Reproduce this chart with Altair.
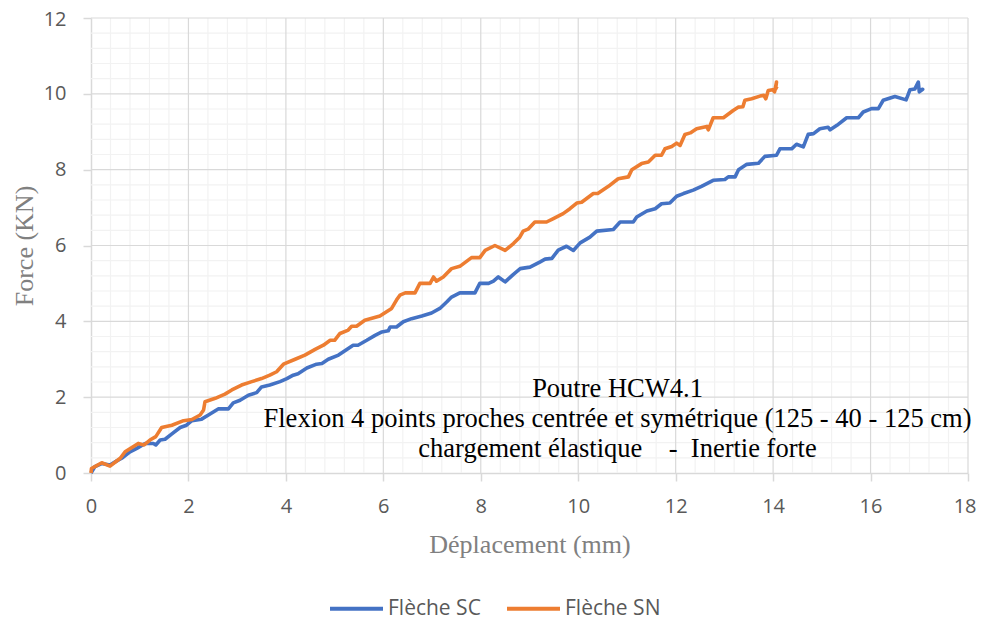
import altair as alt
import pandas as pd

# ---- data ----
sc_x = [0, 0.08, 0.22, 0.39, 0.53, 0.63, 0.80, 0.94, 1.11, 1.28, 1.33, 1.42, 1.52, 1.66, 1.83, 1.96,
        2.07, 2.27, 2.41, 2.61, 2.82, 2.92, 3.06, 3.23, 3.40, 3.50, 3.67, 3.88, 4.02, 4.15, 4.25, 4.43,
        4.63, 4.74, 4.87, 5.08, 5.25, 5.38, 5.48, 5.66, 5.83, 5.97, 6.10, 6.14, 6.27, 6.41, 6.58, 6.79,
        6.99, 7.16, 7.30, 7.40, 7.57, 7.88, 7.98, 8.16, 8.26, 8.36, 8.50, 8.67, 8.81, 9.01, 9.22, 9.32,
        9.46, 9.59, 9.76, 9.90, 10.04, 10.24, 10.38, 10.72, 10.86, 11.13, 11.20, 11.41, 11.58, 11.71,
        11.88, 12.02, 12.16, 12.36, 12.53, 12.77, 13.01, 13.08, 13.22, 13.29, 13.46, 13.70, 13.83,
        14.07, 14.14, 14.38, 14.48, 14.62, 14.72, 14.83, 14.96, 15.13, 15.17, 15.31, 15.51, 15.75,
        15.85, 16.02, 16.16, 16.26, 16.50, 16.73, 16.81, 16.91, 16.98, 17.00, 17.07, 17.03]
sc_y = [0, 0.17, 0.25, 0.21, 0.32, 0.39, 0.56, 0.65, 0.78, 0.78, 0.74, 0.87, 0.89, 1.03, 1.20, 1.26,
        1.38, 1.42, 1.53, 1.69, 1.69, 1.85, 1.92, 2.05, 2.12, 2.27, 2.32, 2.41, 2.49, 2.58, 2.62, 2.77,
        2.87, 2.89, 3.00, 3.11, 3.26, 3.37, 3.37, 3.50, 3.63, 3.72, 3.75, 3.85, 3.85, 3.99, 4.07, 4.14,
        4.22, 4.34, 4.51, 4.64, 4.75, 4.75, 5.00, 5.00, 5.06, 5.17, 5.04, 5.24, 5.39, 5.43, 5.57, 5.64,
        5.66, 5.88, 5.98, 5.87, 6.07, 6.22, 6.38, 6.42, 6.62, 6.62, 6.75, 6.91, 6.97, 7.10,
        7.12, 7.30, 7.37, 7.46, 7.56, 7.72, 7.74, 7.81, 7.81, 8.00, 8.14, 8.17, 8.35,
        8.38, 8.55, 8.55, 8.67, 8.60, 8.93, 8.95, 9.08, 9.12, 9.05, 9.17, 9.37, 9.37,
        9.52, 9.61, 9.61, 9.83, 9.93, 9.84, 10.11, 10.13, 10.31, 10.05, 10.12, 10.10]

sn_x = [0, 0.01, 0.08, 0.22, 0.39, 0.60, 0.70, 0.97, 1.09, 1.21, 1.33, 1.45, 1.66, 1.90, 2.07, 2.24,
        2.31, 2.34, 2.55, 2.75, 2.89, 3.09, 3.30, 3.50, 3.67, 3.81, 3.95, 4.19, 4.39, 4.60, 4.77, 4.91,
        5.00, 5.11, 5.28, 5.35, 5.45, 5.62, 5.93, 6.17, 6.27, 6.34, 6.45, 6.65, 6.75, 6.96, 7.03, 7.09,
        7.23, 7.40, 7.57, 7.81, 7.98, 8.09, 8.29, 8.50, 8.67, 8.80, 8.87, 8.97, 9.11, 9.35, 9.49, 9.69,
        9.83, 9.97, 10.07, 10.31, 10.40, 10.62, 10.82, 11.03, 11.10, 11.30, 11.44, 11.58, 11.71, 11.78,
        11.92, 12.02, 12.09, 12.19, 12.30, 12.43, 12.64, 12.67, 12.77, 12.98, 13.18, 13.29, 13.38,
        13.42, 13.56, 13.73, 13.81, 13.85, 13.90, 13.99, 14.03, 14.07, 14.05, 14.08]
sn_y = [0, 0.12, 0.17, 0.27, 0.18, 0.39, 0.56, 0.78, 0.74, 0.87, 0.96, 1.20, 1.26, 1.38, 1.41, 1.53,
        1.66, 1.88, 1.97, 2.08, 2.19, 2.32, 2.41, 2.49, 2.58, 2.67, 2.87, 3.00, 3.11, 3.26, 3.37, 3.50,
        3.50, 3.68, 3.77, 3.87, 3.87, 4.03, 4.14, 4.34, 4.56, 4.69, 4.75, 4.75, 5.00, 5.00, 5.17, 5.06,
        5.17, 5.39, 5.45, 5.68, 5.68, 5.87, 6.00, 5.87, 6.05, 6.22, 6.38, 6.43, 6.62, 6.62, 6.71, 6.84,
        6.97, 7.12, 7.14, 7.37, 7.37, 7.56, 7.76, 7.81, 8.00, 8.16, 8.20, 8.38, 8.38, 8.55,
        8.61, 8.70, 8.64, 8.93, 8.97, 9.08, 9.14, 9.05, 9.37, 9.37, 9.56, 9.65, 9.66,
        9.83, 9.87, 9.94, 9.96, 9.87, 10.09, 10.11, 10.05, 10.31, 10.12, 10.20]

series_names = ["Flèche SC", "Flèche SN"]
series_colors = ["#4472C4", "#ED7D31"]

x_major = [0, 2, 4, 6, 8, 10, 12, 14, 16, 18]
y_major = [0, 2, 4, 6, 8, 10, 12]
x_minor = [round(i * 0.4, 1) for i in range(46) if i % 5 != 0]
y_minor = [round(i * 0.4, 1) for i in range(31) if i % 5 != 0]

NB = "\u00a0"
annotation_lines = [
    "Poutre HCW4.1",
    "Flexion 4 points proches centrée et symétrique (125 - 40 - 125 cm)",
    "chargement élastique" + NB * 4 + "-" + NB * 2 + "Inertie forte",
]

# ---- build table ----
rows = []
for name, xs_, ys_ in [(series_names[0], sc_x, sc_y), (series_names[1], sn_x, sn_y)]:
    for i, (a, b) in enumerate(zip(xs_, ys_)):
        rows.append({"serie": name, "idx": i, "dep": a, "force": b})
df = pd.DataFrame(rows)

W, H = 877, 455
xs = alt.Scale(domain=[0, 18], nice=False, zero=False)
ys = alt.Scale(domain=[0, 12], nice=False, zero=False)

x_axis = alt.Axis(values=x_major, grid=False, domainColor="#D9D9D9", domainWidth=1.5,
                  tickColor="#D9D9D9", tickSize=8, tickWidth=1.5, labelFlush=False,
                  labelAlign={"expr": "datum.value >= 18 ? 'right' : 'center'"},
                  labelOffset={"expr": "datum.value >= 18 ? 8 : 0"},
                  labelFont="Open Sans", labelFontSize=20, labelColor="#595959",
                  labelPadding=15, titleFont="Liberation Serif", titleFontSize=26,
                  titleFontWeight="normal", titleColor="#808080", titlePadding=15)
y_axis = alt.Axis(values=y_major, grid=False, domainColor="#D9D9D9", domainWidth=1.5,
                  tickColor="#D9D9D9", tickSize=8, tickWidth=1.5, labelFlush=False,
                  labelOffset={"expr": "datum.value >= 12 ? 1.5 : 0"},
                  labelFont="Open Sans", labelFontSize=20, labelColor="#595959",
                  labelPadding=17, titleFont="Liberation Serif", titleFontSize=26,
                  titleFontWeight="normal", titleColor="#808080", titlePadding=6)
X_TITLE = "Déplacement (mm)"
Y_TITLE = "Force (KN)"


def vrules(vals, color):
    return alt.Chart(pd.DataFrame({"v": vals})).mark_rule(color=color, strokeWidth=1.2).encode(
        x=alt.X("v:Q", scale=xs, axis=x_axis, title=X_TITLE), y=alt.value(0), y2=alt.value(H))


def hrules(vals, color):
    return alt.Chart(pd.DataFrame({"v": vals})).mark_rule(color=color, strokeWidth=1.2).encode(
        y=alt.Y("v:Q", scale=ys, axis=y_axis, title=Y_TITLE), x=alt.value(0), x2=alt.value(W))


minor = [vrules(x_minor, "#F2F2F2"), hrules(y_minor, "#F2F2F2")]
major = [vrules(x_major[1:], "#D9D9D9"), hrules(y_major[1:], "#D9D9D9")]

lines = alt.Chart(df).mark_line(strokeWidth=3.6, strokeJoin="round").encode(
    x=alt.X("dep:Q", scale=xs, title=X_TITLE, axis=x_axis),
    y=alt.Y("force:Q", scale=ys, title=Y_TITLE, axis=y_axis),
    color=alt.Color("serie:N", scale=alt.Scale(domain=series_names, range=series_colors),
                    legend=alt.Legend(title=None, orient="none", direction="horizontal",
                                      legendX=237, legendY=562, symbolType="stroke",
                                      symbolSize=2809, symbolStrokeWidth=4, labelFont="Open Sans",
                                      labelFontSize=21, labelColor="#595959", labelOffset=3,
                                      columnPadding=18, padding=0)),
    order="idx:Q",
)

texts = []
for line, yy in zip(annotation_lines, [378.5, 408.5, 438.5]):
    texts.append(alt.Chart(pd.DataFrame({"t": [line]})).mark_text(
        font="Liberation Serif", fontSize=26.5, color="#000000", align="center",
        baseline="alphabetic").encode(x=alt.value(526.5), y=alt.value(yy), text="t:N"))

chart = alt.layer(*minor, *major, lines, *texts).properties(
    width=W, height=H,
    padding={"left": 83, "top": 10, "right": 8, "bottom": 145},
    autosize=alt.AutoSizeParams(type="none"),
).configure_view(stroke=None)

chart.save("out.html", embed_options={"renderer": "svg", "actions": False})
